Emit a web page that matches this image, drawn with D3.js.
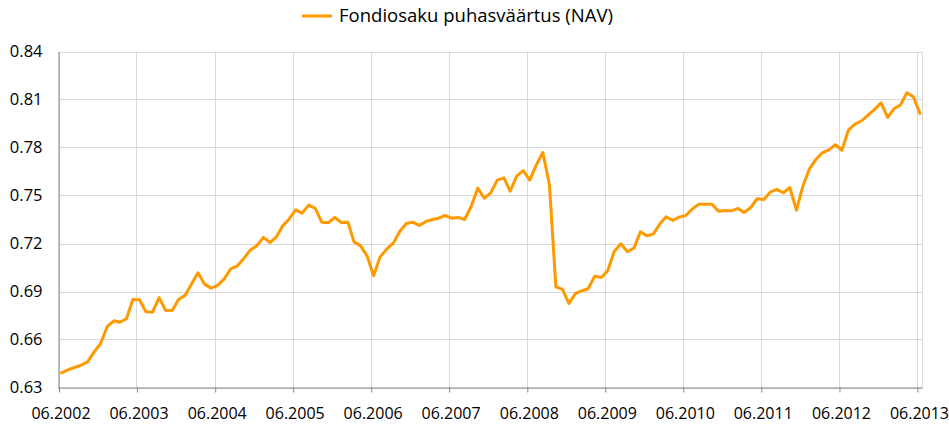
<!DOCTYPE html>
<html>
<head>
<meta charset="utf-8">
<script src="https://cdn.jsdelivr.net/npm/d3@7"></script>
<style>
  html, body { margin: 0; padding: 0; background: #fff; }
  svg { display: block; }
  text { font-family: "Open Sans", "Liberation Sans", Arial, sans-serif; fill: #000; }
</style>
</head>
<body>
<svg id="chart" width="949" height="429"></svg>
<script>
// ---- data ----
const seriesName = "Fondiosaku puhasväärtus (NAV)";
const firstMonth = new Date(2002, 5, 1);   // 06.2002
const lastMonth  = new Date(2013, 5, 1);   // 06.2013
const navValues = [
  0.6392, 0.641, 0.6425, 0.644, 0.646, 0.6523, 0.6575, 0.668, 0.6717, 0.6708, 0.673, 0.685,
  0.6848, 0.6773, 0.6771, 0.6862, 0.6783, 0.6781, 0.685, 0.6877, 0.695, 0.7017, 0.6946, 0.6921,
  0.6938, 0.6977, 0.7042, 0.706, 0.7106, 0.716, 0.7185, 0.7238, 0.7206, 0.7238, 0.731, 0.7352,
  0.741, 0.739, 0.744, 0.7419, 0.7333, 0.7329, 0.7363, 0.7331, 0.7333, 0.721, 0.7185, 0.7123,
  0.6998, 0.7115, 0.7165, 0.7202, 0.7275, 0.7325, 0.7333, 0.7313, 0.7338, 0.7348, 0.7358, 0.7375,
  0.7358, 0.7363, 0.735, 0.7433, 0.7546, 0.7483, 0.7517, 0.7596, 0.761, 0.7527, 0.7621, 0.7656,
  0.7596, 0.769, 0.7769, 0.7565, 0.6929, 0.6913, 0.6825, 0.6888, 0.6905, 0.6917, 0.6996, 0.6988,
  0.7031, 0.715, 0.7198, 0.7148, 0.7171, 0.7273, 0.7248, 0.726, 0.7325, 0.7367, 0.7344, 0.7365,
  0.7375, 0.7415, 0.7446, 0.7446, 0.7446, 0.7402, 0.7406, 0.7404, 0.7419, 0.7394, 0.7425, 0.748,
  0.7475, 0.7521, 0.7538, 0.7517, 0.755, 0.7408, 0.7558, 0.7667, 0.7727, 0.7767, 0.7785, 0.7817,
  0.7783, 0.7908, 0.7946, 0.7967, 0.8002, 0.8038, 0.8079, 0.7988, 0.8044, 0.8065, 0.8142, 0.8117,
  0.8013
];
const yTicks = [0.63, 0.66, 0.69, 0.72, 0.75, 0.78, 0.81, 0.84];
const xTickYears = [2002, 2003, 2004, 2005, 2006, 2007, 2008, 2009, 2010, 2011, 2012, 2013];

// ---- layout ----
const L = 58.5, R = 922.5, T = 51.5, B = 387.5;
const lineColor = "#FF9900";
const gridColor = "#D9D9D9";
const axisColor = "#868686";

const months = d3.timeMonth.range(firstMonth, d3.timeMonth.offset(lastMonth, 1));
const data = months.map((m, i) => ({ date: d3.timeDay.offset(m, 14), v: navValues[i] }));

const x = d3.scaleTime()
  .domain([firstMonth, d3.timeDay.offset(lastMonth, 26)])
  .range([L, R]);
const y = d3.scaleLinear().domain([0.63, 0.84]).range([B, T]);

const svg = d3.select("#chart");

// horizontal gridlines
svg.append("g").selectAll("line").data(yTicks).join("line")
  .attr("x1", L).attr("x2", R)
  .attr("y1", d => Math.round(y(d)) + 0.5).attr("y2", d => Math.round(y(d)) + 0.5)
  .attr("stroke", gridColor).attr("stroke-width", 1);

// vertical gridlines (June 1st of each year) + right border
const tickDates = xTickYears.map(yr => new Date(yr, 5, 1));
svg.append("g").selectAll("line").data(tickDates).join("line")
  .attr("x1", d => Math.round(x(d)) + 0.5).attr("x2", d => Math.round(x(d)) + 0.5)
  .attr("y1", T).attr("y2", B)
  .attr("stroke", gridColor).attr("stroke-width", 1);
svg.append("line")
  .attr("x1", R).attr("x2", R).attr("y1", T).attr("y2", B)
  .attr("stroke", gridColor);

// y axis
const yAxis = d3.axisLeft(y).tickValues(yTicks).tickFormat(d3.format(".2f")).tickSize(0).tickPadding(16);
const gy = svg.append("g").attr("transform", `translate(${L},0)`).call(yAxis);
gy.select(".domain").attr("stroke", axisColor);
gy.selectAll("text").style("font-size", "16.5px").style("font-family", "'Open Sans', sans-serif");

// x axis
const xAxis = d3.axisBottom(x).tickValues(tickDates).tickSize(5).tickFormat(d3.timeFormat("%m.%Y"));
const gx = svg.append("g").attr("transform", `translate(0,${B})`).call(xAxis);
gx.select(".domain").attr("stroke", axisColor).attr("d", `M${L},0.5H${R}`);
gx.selectAll(".tick line").attr("stroke", axisColor).attr("transform", "translate(0.5,0)");
const labelShift = x(d3.timeDay.offset(firstMonth, 14)) - x(firstMonth) - 1;
gx.selectAll("text")
  .attr("x", labelShift)
  .attr("y", 20)
  .style("font-size", "16px").style("font-family", "'Open Sans', sans-serif");

// NAV line
const line = d3.line().x(d => x(d.date)).y(d => y(d.v)).curve(d3.curveLinear);
svg.append("path").datum(data)
  .attr("d", line)
  .attr("fill", "none")
  .attr("stroke", lineColor)
  .attr("stroke-width", 3)
  .attr("stroke-linejoin", "round")
  .attr("stroke-linecap", "round");

// legend
const lg = svg.append("g");
lg.append("line").attr("x1", 302).attr("x2", 332).attr("y1", 16).attr("y2", 16)
  .attr("stroke", lineColor).attr("stroke-width", 3);
const lt = lg.append("text").attr("x", 339).attr("y", 22).text(seriesName).style("font-size", "17px");
const w = lt.node().getComputedTextLength();
lt.style("font-size", (17 * 274 / w).toFixed(2) + "px");
</script>
</body>
</html>
